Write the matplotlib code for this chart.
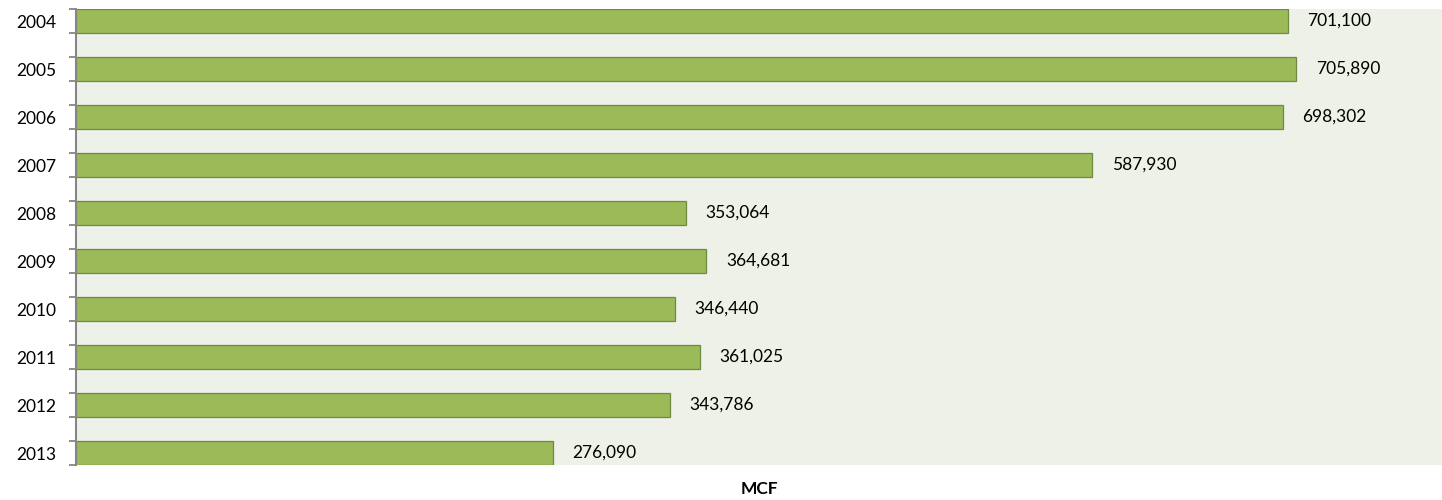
import matplotlib
matplotlib.use("Agg")
import matplotlib.pyplot as plt
import numpy as np

years = ["2004", "2005", "2006", "2007", "2008", "2009", "2010", "2011", "2012", "2013"]
values = [701100, 705890, 698302, 587930, 353064, 364681, 346440, 361025, 343786, 276090]
xlabel = "MCF"

plt.rcParams['font.family'] = ['Lato', 'DejaVu Sans']

fig = plt.figure(figsize=(14.42, 5.0), dpi=100)
ax = fig.add_axes([76/1442, 35/500, 1 - 76/1442, 456/500])
ax.set_facecolor("#EEF1E7")

pos = np.arange(len(years)) * 2
ax.barh(pos, values, height=1.0, color="#9BBB59", edgecolor="#71893F", linewidth=0.9)

ax.set_ylim(len(years) * 2 - 1.5, -0.5)
ax.set_xlim(0, 790200)

ax.set_yticks(pos)
ax.set_yticklabels(years, fontsize=12.5)
ax.set_yticks(np.arange(-0.5, len(years) * 2 - 1.0, 1.0), minor=True)
ax.tick_params(axis='y', which='major', length=0, pad=14)
ax.tick_params(axis='y', which='minor', length=5, width=1.3, color="#868686", direction='out')
ax.set_xticks([])

for s in ["top", "right", "bottom"]:
    ax.spines[s].set_visible(False)
ax.spines["left"].set_color("#868686")
ax.spines["left"].set_linewidth(1.5)

for p, v in zip(pos, values):
    ax.annotate(f"{v:,}", xy=(v, p), xytext=(14, 0), textcoords="offset points",
                va="center", ha="left", fontsize=12.5, color="#000000")

fig.text((76 + 1442) / 2 / 1442, 1 - 489/500, xlabel, ha="center", va="center",
         fontsize=12.5, fontweight="bold")

fig.savefig("out.png", dpi=100)
